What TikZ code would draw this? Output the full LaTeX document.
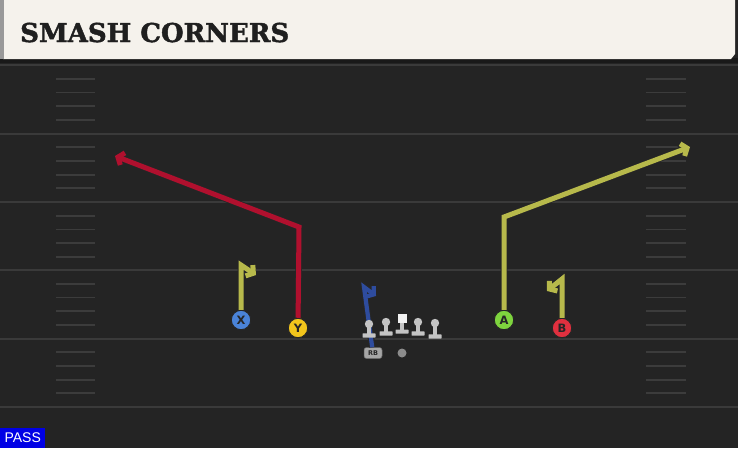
\documentclass[tikz,border=0pt]{standalone}
\usepackage{fontspec}
\newfontfamily\titlefont[FakeBold=1.6]{DejaVu Serif}
\newfontfamily\letterfont{DejaVu Sans}
\newfontfamily\tagfont{Liberation Sans}
\usetikzlibrary{arrows.meta}

\definecolor{turf}{HTML}{242424}
\definecolor{yardline}{HTML}{3A3A3A}
\definecolor{hashline}{HTML}{3C3C3C}
\definecolor{cream}{HTML}{F5F2EC}
\definecolor{olive}{HTML}{B7B94B}
\definecolor{crimson}{HTML}{B0102E}
\definecolor{navy}{HTML}{2E4C9E}
\definecolor{xblue}{HTML}{4A83D8}
\definecolor{yyellow}{HTML}{F2C51C}
\definecolor{agreen}{HTML}{7ED43E}
\definecolor{bred}{HTML}{E0303F}
\definecolor{linegray}{HTML}{C4C4C4}

\tikzset{
  player/.style={circle, minimum size=19.5pt, inner sep=0pt, draw=black!85, line width=1pt,
    text=black!85, font=\letterfont\bfseries\fontsize{11.5}{11.5}\selectfont},
  route/.style={line width=5pt, line join=miter,
    preaction={draw=black!85, line width=6.6pt},
    -{Straight Barb[length=5pt,width=13pt]}},
  lineman/.style={fill=linegray}
}

\begin{document}
\begin{tikzpicture}[x=1pt,y=-1pt]
\useasboundingbox (0,0) rectangle (738,448);
% field
\fill[turf] (0,0) rectangle (738,448);
\foreach \yl in {65,133.5,202,270,338.5,407}
  \draw[yardline, line width=2pt] (0,\yl) -- (738,\yl);
\foreach \yl in {65,133.5,202,270,338.5}
  \foreach \k in {1,...,4} {
    \draw[hashline, line width=1.8pt] (56,\yl+\k*13.7) -- (95,\yl+\k*13.7);
    \draw[hashline, line width=1.8pt] (646,\yl+\k*13.7) -- (686,\yl+\k*13.7);
  }

% header
\fill[black!90] (0,58) rectangle (738,63);
\fill[cream] (3,0) -- (735,0) -- (735,54) -- (731,59) -- (3,59) -- cycle;
\fill[black!40] (0,0) rectangle (4,59);
\node[anchor=base west, inner sep=0pt, text=black!88,
  font=\titlefont\bfseries\fontsize{26}{26}\selectfont] (title) at (20,42) {SMASH CORNERS};

% players
\node[player, fill=xblue] (x) at (241,320) {X};
\node[player, fill=yyellow] (y) at (298,328) {Y};
\node[player, fill=agreen] (a) at (504,320) {A};
\node[player, fill=bred] (b) at (562,328) {B};
\node[rounded corners=2.5pt, fill=black!35, draw=black!60, line width=0.5pt, minimum width=18pt,
  minimum height=11pt, inner sep=0pt, text=black!85, font=\letterfont\bfseries\fontsize{6.5}{6.5}\selectfont] (rb) at (373,353) {RB};
\fill[black!45] (402,353) circle (4.5) coordinate (qb);

% routes
\coordinate (x1) at (241,265);
\coordinate (x2) at (256,275);
\draw[route, olive] (x) -- (x1) -- (x2);
\coordinate (y1) at (299,227);
\coordinate (y2) at (115,156);
\draw[route, crimson] (y) -- (y1) -- (y2);
\coordinate (a1) at (504,217);
\coordinate (a2) at (690,147);
\draw[route, olive] (a) -- (a1) -- (a2);
\coordinate (b1) at (562,279);
\coordinate (b2) at (547,291);
\draw[route, olive] (b) -- (b1) -- (b2);
\coordinate (rb1) at (364,287);
\coordinate (rb2) at (376,296);
\draw[route, navy, line width=4.2pt] (rb) -- (rb1) -- (rb2);

% line
\foreach \lx/\hy/\by in {369/324/335.5, 386/322/333.5, 418/322/333.5, 435/323/336.5} {
  \fill[lineman] (\lx-1.8,\hy) rectangle (\lx+1.8,\by);
  \fill[lineman] (\lx,\hy) circle (4.2);
  \fill[lineman, rounded corners=0.6pt] (\lx-6.5,\by-2.2) rectangle (\lx+6.5,\by+2.2);
}
\fill[lineman] (400.2,322) rectangle (403.8,331);
\fill[white!95!black] (397.5,314) rectangle (406.5,323);
\fill[lineman, rounded corners=0.6pt] (395.5,329.5) rectangle (408.5,333.7);

% play type
\node[anchor=south west, fill=blue!90!black, text=white, inner sep=0pt, minimum width=45pt,
  minimum height=20pt, font=\tagfont\fontsize{14}{14}\selectfont] (tag) at (0,448) {PASS};
\end{tikzpicture}
\end{document}
